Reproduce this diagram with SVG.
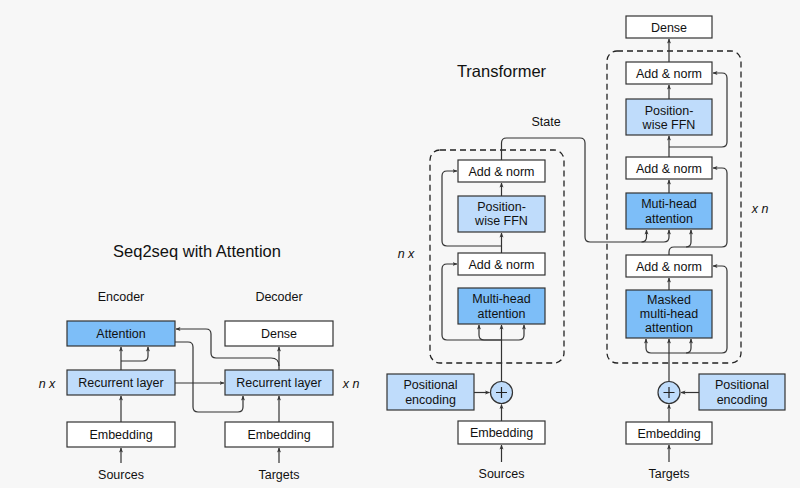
<svg xmlns="http://www.w3.org/2000/svg" width="800" height="488" viewBox="0 0 800 488">
<defs>
<marker id="ah" viewBox="0 0 10 10" refX="9" refY="5" markerWidth="5" markerHeight="5" orient="auto" markerUnits="userSpaceOnUse">
<path d="M0,1 L10,5 L0,9 L2.5,5 Z" fill="#333"/>
</marker>
<style>
.b{stroke:#333;stroke-width:1.2}
.w{fill:#fff}
.l{fill:#bfdcfb}
.d{fill:#7dbef8}
.t{font-family:"Liberation Sans",Arial,sans-serif;font-size:12.5px;fill:#111;text-anchor:middle}
.h{font-family:"Liberation Sans",Arial,sans-serif;font-size:16.5px;fill:#111;text-anchor:middle}
.i{font-style:italic}
.c path{fill:none;stroke:#333;stroke-width:1.2}
.a{marker-end:url(#ah)}
.dash{fill:none;stroke:#222;stroke-width:1.3;stroke-dasharray:6,4}
</style>
</defs>
<rect width="800" height="488" fill="#f7f7f7"/>

<text class="h" x="197" y="256.5">Seq2seq with Attention</text>
<text class="t" x="121" y="300.5">Encoder</text>
<text class="t" x="279" y="300.5">Decoder</text>
<text class="t" x="121" y="478.5">Sources</text>
<text class="t" x="279" y="478.5">Targets</text>
<text class="t i" x="47" y="388">n x</text>
<text class="t i" x="351" y="388">x n</text>

<g id="s_att"><rect class="b d" x="67" y="321" width="108" height="25"/><text class="t" x="121" y="338">Attention</text></g>
<g id="s_renc"><rect class="b l" x="67" y="370" width="108" height="25"/><text class="t" x="121" y="387">Recurrent layer</text></g>
<g id="s_eenc"><rect class="b w" x="67" y="422" width="108" height="25"/><text class="t" x="121" y="439">Embedding</text></g>
<g id="s_dense"><rect class="b w" x="225" y="321" width="108" height="25"/><text class="t" x="279" y="338">Dense</text></g>
<g id="s_rdec"><rect class="b l" x="225" y="370" width="108" height="25"/><text class="t" x="279" y="387">Recurrent layer</text></g>
<g id="s_edec"><rect class="b w" x="225" y="422" width="108" height="25"/><text class="t" x="279" y="439">Embedding</text></g>

<text class="h" x="501.5" y="76.5">Transformer</text>
<text class="t" x="546" y="126">State</text>
<text class="t i" x="406" y="258">n x</text>
<text class="t i" x="760" y="213">x n</text>
<text class="t" x="501.5" y="478">Sources</text>
<text class="t" x="669" y="477.5">Targets</text>

<rect class="dash" x="430" y="150" width="134" height="213" rx="10"/>
<rect class="dash" x="607" y="51" width="134" height="312" rx="10"/>

<g id="e_add2"><rect class="b w" x="458" y="160" width="87" height="22"/><text class="t" x="501.5" y="175.5">Add &amp; norm</text></g>
<g id="e_ffn"><rect class="b l" x="458" y="196" width="87" height="36"/><text class="t" x="501.5" y="211">Position-</text><text class="t" x="501.5" y="224.5">wise FFN</text></g>
<g id="e_add1"><rect class="b w" x="458" y="253" width="87" height="22"/><text class="t" x="501.5" y="268.5">Add &amp; norm</text></g>
<g id="e_mha"><rect class="b d" x="458" y="288" width="87" height="36"/><text class="t" x="501.5" y="302.5">Multi-head</text><text class="t" x="501.5" y="317.5">attention</text></g>
<g id="e_pos"><rect class="b l" x="387" y="374" width="87" height="36"/><text class="t" x="430.5" y="389">Positional</text><text class="t" x="430.5" y="403.5">encoding</text></g>
<g id="e_plus"><circle class="b l" cx="501.5" cy="392.5" r="11"/><path d="M496,392.5 H507 M501.5,387 V398" stroke="#222" stroke-width="1.2"/></g>
<g id="e_emb"><rect class="b w" x="458" y="421" width="87" height="23"/><text class="t" x="501.5" y="437">Embedding</text></g>

<g id="d_dense"><rect class="b w" x="626" y="16" width="86" height="22"/><text class="t" x="669" y="31.5">Dense</text></g>
<g id="d_add3"><rect class="b w" x="626" y="62" width="86" height="22"/><text class="t" x="669" y="77.5">Add &amp; norm</text></g>
<g id="d_ffn"><rect class="b l" x="626" y="99" width="86" height="36"/><text class="t" x="669" y="114.5">Position-</text><text class="t" x="669" y="128.5">wise FFN</text></g>
<g id="d_add2"><rect class="b w" x="626" y="157" width="86" height="22"/><text class="t" x="669" y="172.5">Add &amp; norm</text></g>
<g id="d_mha"><rect class="b d" x="626" y="193" width="86" height="36"/><text class="t" x="669" y="207.5">Muti-head</text><text class="t" x="669" y="222.5">attention</text></g>
<g id="d_add1"><rect class="b w" x="626" y="255" width="86" height="22"/><text class="t" x="669" y="270.5">Add &amp; norm</text></g>
<g id="d_mmha"><rect class="b d" x="626" y="290" width="86" height="48"/><text class="t" x="669" y="303.5">Masked</text><text class="t" x="669" y="318">multi-head</text><text class="t" x="669" y="332">attention</text></g>
<g id="d_plus"><circle class="b l" cx="669" cy="392.5" r="11"/><path d="M663.5,392.5 H674.5 M669,387 V398" stroke="#222" stroke-width="1.2"/></g>
<g id="d_pos"><rect class="b l" x="699" y="374" width="86" height="36"/><text class="t" x="742" y="389">Positional</text><text class="t" x="742" y="403.5">encoding</text></g>
<g id="d_emb"><rect class="b w" x="626" y="422" width="86" height="22"/><text class="t" x="669" y="437.5">Embedding</text></g>

<g id="connectors" class="c">
<path class="a" d="M121,463 V448"/>
<path class="a" d="M121,422 V396"/>
<path class="a" d="M121,370 V347"/>
<path class="a" d="M121,361 H143 q5,0 5,-5 V347"/>
<path class="a" d="M175,383 H224"/>
<path class="a" d="M175,342 H188 q5,0 5,5 V407 q0,5 5,5 H238 q5,0 5,-5 V396"/>
<path class="a" d="M279,370 V347"/>
<path class="a" d="M279,366 q0,-8 -8,-8 H216 q-5,0 -5,-5 V334 q0,-5 -5,-5 H176"/>
<path class="a" d="M279,422 V396"/>
<path class="a" d="M279,463 V448"/>

<path class="a" d="M501.5,462 V445"/>
<path class="a" d="M501.5,421 V404.5"/>
<path class="a" d="M474,392.5 H489.5"/>
<path class="a" d="M501.5,381.5 V325"/>
<path class="a" d="M501.5,340 H447 q-5,0 -5,-5 V269 q0,-5 5,-5 H457"/>
<path class="a" d="M501.5,340 H484 q-5,0 -5,-5 V325"/>
<path class="a" d="M501.5,340 H519 q5,0 5,-5 V325"/>
<path class="a" d="M501.5,253 V233"/>
<path class="a" d="M501.5,246 H447 q-5,0 -5,-5 V176 q0,-5 5,-5 H457"/>
<path class="a" d="M501.5,196 V183"/>
<path class="a" d="M501.5,160 V143 q0,-5 5,-5 H580 q5,0 5,5 V237 q0,5 5,5 H664 q5,0 5,-5 V230"/>
<path class="a" d="M641.5,242 q5,0 5,-5 V230"/>

<path class="a" d="M669,255 V252 q0,-5 5,-5 H722 q5,0 5,-5 V173 q0,-5 -5,-5 H713"/>
<path class="a" d="M686,247 q5,0 5,-5 V230"/>
<path class="a" d="M669,193 V180"/>
<path class="a" d="M669,157 V136"/>
<path class="a" d="M669,147 H722 q5,0 5,-5 V78 q0,-5 -5,-5 H713"/>
<path class="a" d="M669,99 V85"/>
<path class="a" d="M669,62 V39"/>
<path class="a" d="M669,290 V278"/>
<path class="a" d="M669,353 H722 q5,0 5,-5 V271 q0,-5 -5,-5 H713"/>
<path class="a" d="M669,353 H651 q-5,0 -5,-5 V339"/>
<path class="a" d="M686,353 q5,0 5,-5 V339"/>
<path class="a" d="M669,381.5 V339"/>
<path class="a" d="M699,392.5 H681"/>
<path class="a" d="M669,422 V404.5"/>
<path class="a" d="M669,462 V445"/>
</g>
</svg>
